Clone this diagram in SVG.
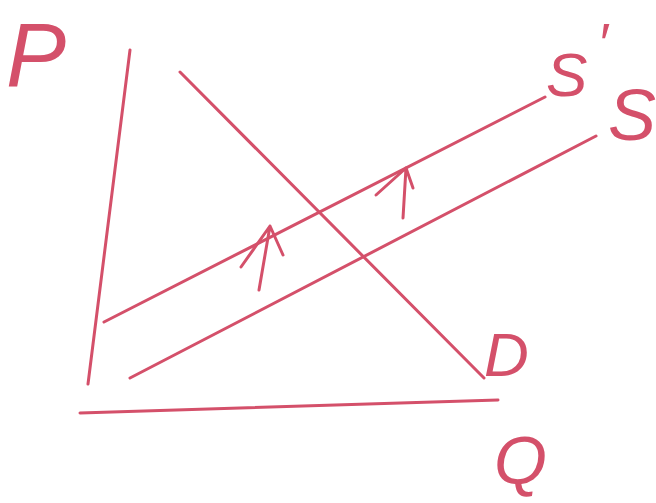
<svg xmlns="http://www.w3.org/2000/svg" width="656" height="503" viewBox="0 0 656 503">
<style>
.ln{stroke:#d4506a;stroke-width:3;fill:none;stroke-linecap:round;stroke-linejoin:round}
.lb{fill:#d4506a;font-family:"Liberation Sans",Arial,sans-serif;font-style:italic}
</style>
<rect width="656" height="503" fill="#ffffff"/>
<g id="connectors">
<path id="p-axis" class="ln" d="M130,50 L88,384"/>
<path id="q-axis" class="ln" d="M80,413 L498,400"/>
<path id="demand-D" class="ln" d="M180,72 L484,378"/>
<path id="supply-S-prime" class="ln" d="M104,322 L545,97"/>
<path id="supply-S" class="ln" d="M130,378 L596,136"/>
<path id="shift-arrow-1" class="ln" d="M259,290 L270,226 M241,267 L270,226 L283,255"/>
<path id="shift-arrow-2" class="ln" d="M403,218 L406,168 M376,195 L406,168 L413,188"/>
</g>
<g id="label-P"><text class="lb" x="6" y="86" font-size="90">P</text></g>
<g id="label-S-prime"><text class="lb" x="546" y="96" font-size="62">S<tspan dx="10" dy="-34" font-size="56">′</tspan></text></g>
<g id="label-S"><text class="lb" x="608" y="140" font-size="72">S</text></g>
<g id="label-D"><text class="lb" x="484" y="376" font-size="62">D</text></g>
<g id="label-Q"><text class="lb" x="494" y="484" font-size="68">Q</text></g>
</svg>
